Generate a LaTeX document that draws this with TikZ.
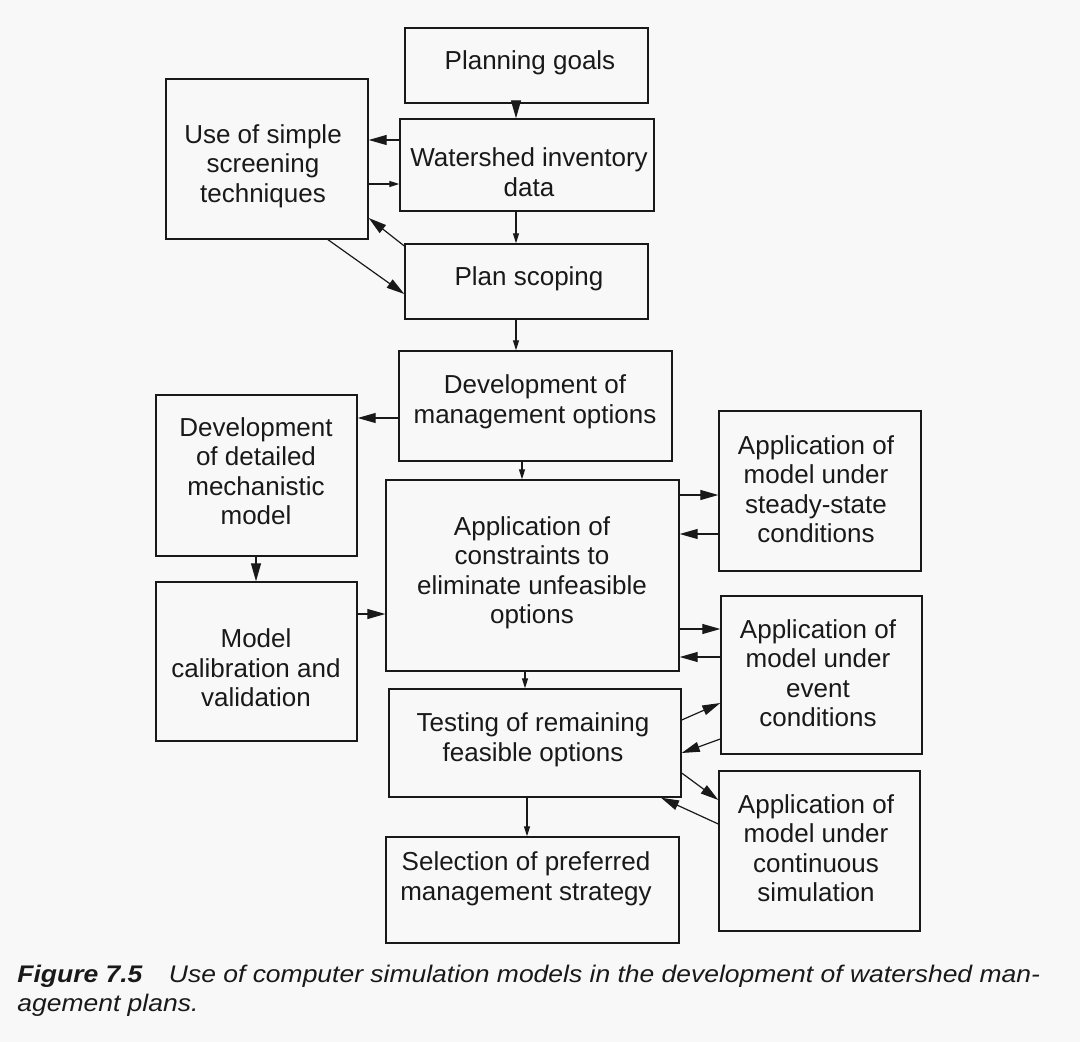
\documentclass[tikz,border=0pt]{standalone}
\usepackage{fontspec}
\setmainfont{Liberation Sans}
\usepackage{graphicx}
\usetikzlibrary{arrows.meta}
\definecolor{bgc}{RGB}{248,248,248}
\definecolor{ink}{RGB}{25,25,25}
\tikzset{
  box/.style={draw=ink, line width=0.7pt, inner sep=0pt, rectangle},
  lbl/.style={align=center, font=\fontsize{13}{14.75}\selectfont, text=ink, inner sep=0pt},
  big/.style={draw=ink, line width=0.6pt, -{Triangle[length=9pt,width=5pt]}},
  small/.style={draw=ink, line width=0.6pt, -{Triangle[length=5pt,width=3pt]}},
  captxt/.style={anchor=base west, inner sep=0pt, text=ink, font=\fontsize{12}{14}\selectfont\itshape}
}
\begin{document}
\begin{tikzpicture}[x=0.5pt,y=-0.5pt]
\fill[bgc] (0,0) rectangle (1080,1042);
\useasboundingbox (0,0) rectangle (1080,1042);
% boxes
\node[box, minimum width=121.5pt, minimum height=37.5pt] (pg) at (526.5,65.5) {};
\node[box, minimum width=101pt, minimum height=80pt] (sc) at (267,159) {};
\node[box, minimum width=127pt, minimum height=46pt] (wi) at (527,165) {};
\node[box, minimum width=121.5pt, minimum height=37.5pt] (ps) at (526.5,281.5) {};
\node[box, minimum width=136.5pt, minimum height=55pt] (dm) at (535.5,406) {};
\node[box, minimum width=100.5pt, minimum height=80.5pt] (dd) at (256.5,475.5) {};
\node[box, minimum width=100.5pt, minimum height=79.5pt] (mc) at (256.5,661.5) {};
\node[box, minimum width=146.5pt, minimum height=95.5pt] (ca) at (532.5,575.5) {};
\node[box, minimum width=101pt, minimum height=80pt] (ss) at (820,491) {};
\node[box, minimum width=100.5pt, minimum height=79pt] (ev) at (821.5,675) {};
\node[box, minimum width=146pt, minimum height=54pt] (te) at (535,743) {};
\node[box, minimum width=146.5pt, minimum height=53pt] (se) at (532.5,890) {};
\node[box, minimum width=100.5pt, minimum height=80pt] (co) at (819.5,851) {};
% labels
\node[lbl] (pgt) at (530,63) {Planning goals};
\node[lbl] (sct) at (263,166) {Use of simple\\screening\\techniques};
\node[lbl] (wit) at (529,172) {Watershed inventory\\data};
\node[lbl] (pst) at (529,279) {Plan scoping};
\node[lbl] (dmt) at (535,402) {Development of\\management options};
\node[lbl] (ddt) at (256,471) {Development\\of detailed\\mechanistic\\model};
\node[lbl] (mct) at (256,668) {Model\\calibration and\\validation};
\node[lbl] (cat) at (532,573) {Application of\\constraints to\\eliminate unfeasible\\options};
\node[lbl] (sst) at (816,489) {Application of\\model under\\steady-state\\conditions};
\node[lbl] (evt) at (818,673) {Application of\\model under\\event\\conditions};
\node[lbl] (tet) at (533,740) {Testing of remaining\\feasible options};
\node[lbl] (set) at (526,879) {Selection of preferred\\management strategy};
\node[lbl] (cot) at (816,848) {Application of\\model under\\continuous\\simulation};
% connectors
\draw[big] (pg.south -| 516,0) -- (wi.north -| 516,0);
\draw[big] (wi.west |- 0,140) -- (sc.east |- 0,140);
\draw[small] (sc.east |- 0,184) -- (wi.west |- 0,184);
\draw[small] (wi.south -| 516,0) -- (ps.north -| 516,0);
\draw[big] (ps.west |- 0,246) -- (sc.east |- 0,218);
\draw[big] (sc.south -| 328,0) -- (ps.west |- 0,294);
\draw[small] (ps.south -| 516,0) -- (dm.north -| 516,0);
\draw[big] (dm.west |- 0,418) -- (dd.east |- 0,418);
\draw[small] (dm.south -| 522,0) -- (ca.north -| 522,0);
\draw[big] (dd.south -| 256,0) -- (mc.north -| 256,0);
\draw[big] (mc.east |- 0,614) -- (ca.west |- 0,614);
\draw[big] (ca.east |- 0,495) -- (ss.west |- 0,495);
\draw[big] (ss.west |- 0,534) -- (ca.east |- 0,534);
\draw[big] (ca.east |- 0,629) -- (ev.west |- 0,629);
\draw[big] (ev.west |- 0,657) -- (ca.east |- 0,657);
\draw[small] (ca.south -| 525,0) -- (te.north -| 525,0);
\draw[big] (te.east |- 0,720) -- (ev.west |- 0,703);
\draw[big] (ev.west |- 0,739) -- (te.east |- 0,753);
\draw[big] (te.east |- 0,773) -- (co.west |- 0,800);
\draw[big] (co.west |- 0,824) -- (te.south -| 661,0);
\draw[small] (te.south -| 527,0) -- (se.north -| 527,0);
% caption
\node[captxt] (cap1) at (17,982) {\scalebox{1.103}[1]{\textbf{Figure 7.5}\hspace{1em}Use of computer simulation models in the development of watershed man-}};
\node[captxt] (cap2) at (17,1011) {\scalebox{1.103}[1]{agement plans.}};
\end{tikzpicture}
\end{document}
